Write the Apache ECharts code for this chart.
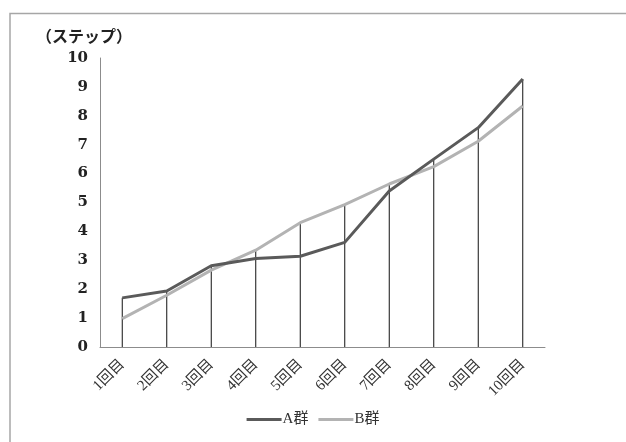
<!DOCTYPE html>
<html>
<head>
<meta charset="utf-8">
<script src="https://cdn.jsdelivr.net/npm/echarts@6/dist/echarts.min.js"></script>
<style>
  html, body { margin: 0; padding: 0; background: #fff; }
  #chart { width: 626px; height: 442px; }
</style>
</head>
<body>
<div id="chart"></div>
<script>
// Trials and the average number of steps per group
const categories = ['1回目', '2回目', '3回目', '4回目', '5回目', '6回目', '7回目', '8回目', '9回目', '10回目'];
const groupA = [1.70, 1.94, 2.81, 3.06, 3.14, 3.62, 5.40, 6.50, 7.59, 9.27];
const groupB = [0.98, 1.79, 2.66, 3.35, 4.30, 4.93, 5.64, 6.24, 7.12, 8.34];
const yTicks = [0, 1, 2, 3, 4, 5, 6, 7, 8, 9, 10];

// Drop lines run from the higher of the two points down to the axis
const dropTops = groupA.map((a, i) => Math.max(a, groupB[i]));

const serif = '"DejaVu Serif", "Liberation Serif", serif';
const jp = '"Liberation Serif", "Noto Sans CJK JP", serif';

const chart = echarts.init(document.getElementById('chart'), null, { renderer: 'canvas' });
chart.setOption({
  animation: false,
  backgroundColor: '#fff',
  graphic: [{
    type: 'polyline',
    shape: { points: [[10, 450], [10, 13.5], [640, 13.5]] },
    style: { stroke: '#a6a6a6', lineWidth: 1.5, fill: null }
  }, {
    type: 'text',
    left: 36, top: 28,
    style: { text: '（ステップ）', font: 'bold 16px "Noto Sans CJK JP"', fill: '#222' }
  }],
  grid: { left: 100, right: 81, top: 58, bottom: 95 },
  xAxis: {
    type: 'category',
    data: categories,
    boundaryGap: true,
    axisLine: { lineStyle: { color: '#8c8c8c', width: 1 } },
    axisTick: { show: false },
    axisLabel: {
      rotate: 45, color: '#333', fontSize: 15, margin: 15,
      fontFamily: jp, interval: 0
    }
  },
  yAxis: {
    type: 'value',
    min: yTicks[0], max: yTicks[yTicks.length - 1], interval: 1,
    axisLine: { show: true, lineStyle: { color: '#8c8c8c', width: 1 } },
    axisTick: { show: false },
    splitLine: { show: false },
    axisLabel: {
      color: '#222', fontSize: 15, fontWeight: 'bold', margin: 12,
      fontFamily: serif
    }
  },
  legend: {
    bottom: 10, left: 'center',
    itemWidth: 35, itemHeight: 3, itemGap: 10,
    icon: 'rect',
    textStyle: { fontFamily: jp, fontSize: 15, color: '#333', padding: [0, 0, 0, -4] },
    data: ['A群', 'B群']
  },
  series: [{
    name: 'drop',
    type: 'bar',
    data: dropTops,
    barWidth: 1,
    itemStyle: { color: '#111' },
    silent: true,
    z: 1
  }, {
    name: 'B群',
    type: 'line',
    data: groupB,
    symbol: 'none',
    lineStyle: { color: '#b3b3b3', width: 3 },
    itemStyle: { color: '#b3b3b3' },
    z: 2
  }, {
    name: 'A群',
    type: 'line',
    data: groupA,
    symbol: 'none',
    lineStyle: { color: '#5a5a5a', width: 3 },
    itemStyle: { color: '#5a5a5a' },
    z: 3
  }]
});
</script>
</body>
</html>
